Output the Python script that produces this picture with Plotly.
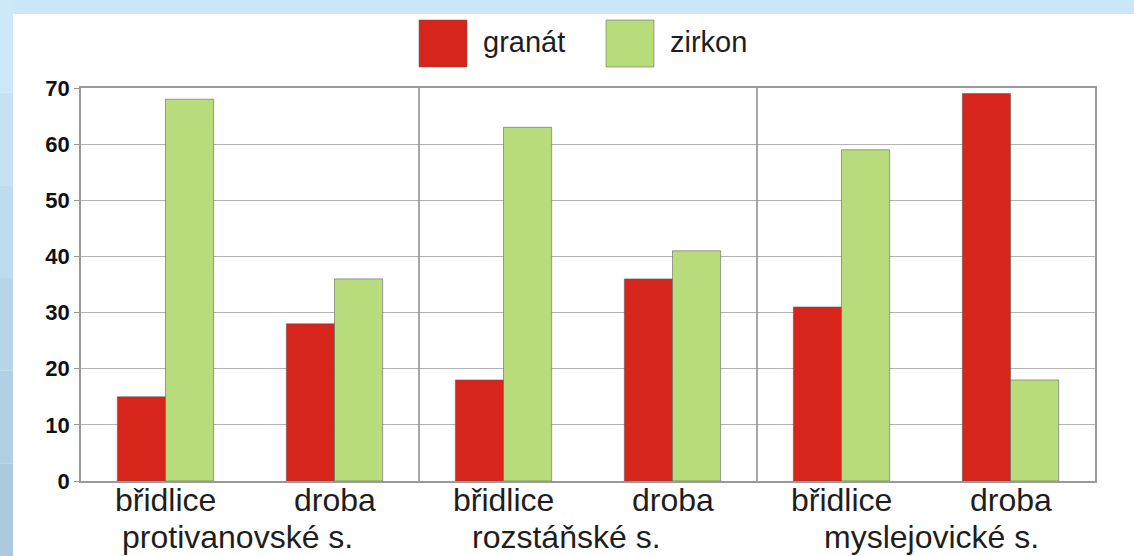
import plotly.graph_objects as go

groups = ["protivanovské s.", "protivanovské s.", "rozstáňské s.", "rozstáňské s.", "myslejovické s.", "myslejovické s."]
rocks = ["břidlice", "droba", "břidlice", "droba", "břidlice", "droba"]
group_labels = ["protivanovské s.", "rozstáňské s.", "myslejovické s."]
granat = [15, 28, 18, 36, 31, 69]
zirkon = [68, 36, 63, 41, 59, 18]
series_names = ["granát", "zirkon"]
series_colors = ["#d8251b", "#b8dc7c"]
y_ticks = [0, 10, 20, 30, 40, 50, 60, 70]

FONT = "Liberation Sans, Arial, sans-serif"
PW, PH = 1014, 393  # plot area size in px

fig = go.Figure()
for name, vals, col in zip(series_names, [granat, zirkon], series_colors):
    fig.add_trace(go.Bar(
        x=[groups, rocks], y=vals, name=name,
        marker=dict(color=col, line=dict(color="rgba(90,90,90,0.55)", width=1)),
        showlegend=False,
    ))

# background frame (slide)
shapes = [
    dict(type="rect", xref="paper", yref="paper", x0=-0.2, x1=1.2, y0=1.0 + 74/PH, y1=1.0 + 100/PH,
         fillcolor="#cbe8f9", line_width=0, layer="below"),
]
left_cols = ["#cce8f9", "#c5e2f5", "#bedcef", "#b7d6ea", "#b1d0e5", "#abcae0"]
n = len(left_cols)
for i, c in enumerate(left_cols):
    y0 = -75/PH + (PH + 88 + 75)/PH * (n - 1 - i)/n
    y1 = -75/PH + (PH + 88 + 75)/PH * (n - i)/n
    shapes.append(dict(type="rect", xref="paper", yref="paper", x0=-90/PW, x1=-68/PW,
                       y0=y0, y1=y1, fillcolor=c, line_width=0, layer="below"))
# group separators through the plot
for xv in [1.5, 3.5]:
    shapes.append(dict(type="line", xref="x", yref="paper", x0=xv, x1=xv, y0=0, y1=1,
                       line=dict(color="#8a8a8a", width=1.5)))

annotations = []
# manual legend
leg_x = [(419 - 81)/PW, (606 - 81)/PW]
for (lx, name, col) in zip(leg_x, series_names, series_colors):
    shapes.append(dict(type="rect", xref="paper", yref="paper",
                       x0=lx, x1=lx + 48/PW, y0=1 + (88 - 67)/PH, y1=1 + (88 - 20)/PH,
                       fillcolor=col, line=dict(color="rgba(90,90,90,0.5)", width=1)))
    annotations.append(dict(xref="paper", yref="paper", x=lx + 62/PW, y=1 + (88 - 42)/PH,
                            text=name, showarrow=False, xanchor="left", yanchor="middle",
                            font=dict(family=FONT, size=29, color="#1e1e1e")))

# category labels
for i, r in enumerate(rocks):
    annotations.append(dict(xref="x", yref="paper", x=i, y=-(500 - 481)/PH, text=r,
                            showarrow=False, xanchor="center", yanchor="middle",
                            font=dict(family=FONT, size=32, color="#1e1e1e")))
group_shift = [-13, -22, 5]
for j, g in enumerate(group_labels):
    annotations.append(dict(xref="x", yref="paper", x=2*j + 0.5, y=-(537 - 481)/PH, text=g,
                            xshift=group_shift[j],
                            showarrow=False, xanchor="center", yanchor="middle",
                            font=dict(family=FONT, size=32, color="#1e1e1e")))

fig.update_layout(
    width=1134, height=556,
    margin=dict(l=81, r=39, t=88, b=75, autoexpand=False),
    paper_bgcolor="white", plot_bgcolor="white",
    barmode="group", bargap=0.43, bargroupgap=0,
    shapes=shapes, annotations=annotations,
    font=dict(family=FONT, color="#222"),
)
fig.update_yaxes(range=[0, 70], tickvals=y_ticks, showgrid=True, gridcolor="#b4b4b4", gridwidth=1,
                 showline=True, linecolor="#9a9a9a", linewidth=1.5, mirror=True,
                 ticks="outside", ticklen=5, tickcolor="#9a9a9a",
                 tickfont=dict(family=FONT, size=22, color="#111", weight="bold"),
                 zeroline=False, automargin=False)
fig.update_xaxes(showline=True, linecolor="#9a9a9a", linewidth=1.5, mirror=True,
                 showdividers=False, ticks="", showticklabels=False, automargin=False)
fig.write_html("out.html", config={"displayModeBar": False},
               post_script="document.body.style.margin='0';")
